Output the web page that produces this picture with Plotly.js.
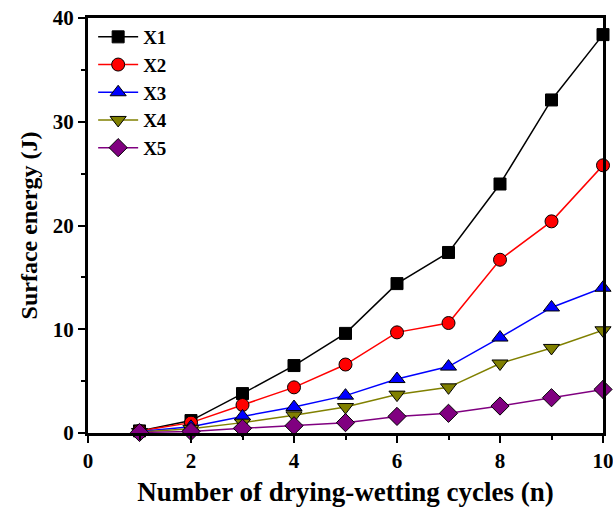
<!DOCTYPE html>
<html><head><meta charset="utf-8">
<script src="https://cdn.plot.ly/plotly-3.0.1.min.js"></script>
<style>body{margin:0;padding:0;background:#fff}#chart{width:613px;height:508px}</style>
</head><body><div id="chart"></div>
<script>
const cycles = [1,2,3,4,5,6,7,8,9,10];
const seriesNames = ['X1','X2','X3','X4','X5'];
const X1 = [0.2,1.2,3.8,6.5,9.6,14.4,17.4,24.0,32.1,38.4];
const X2 = [0.2,1.0,2.7,4.4,6.6,9.7,10.6,16.7,20.4,25.8];
const X3 = [0.15,0.6,1.6,2.5,3.6,5.2,6.4,9.2,12.1,14.0];
const X4 = [0.1,0.4,1.0,1.7,2.5,3.7,4.4,6.7,8.2,9.9];
const X5 = [0.05,0.15,0.45,0.7,1.0,1.6,1.9,2.6,3.4,4.2];
const values = [X1,X2,X3,X4,X5];
const colors = ['#000000','#ff0000','#0000ff','#808000','#800080'];
const symbols = ['square','circle','triangle-up','triangle-down','diamond'];
const sizes = [12,13,14,14,14];
const traces = values.map((v,i)=>({
  x: cycles, y: v, name: seriesNames[i], type:'scatter', mode:'lines+markers',
  line:{color:colors[i], width:1.5},
  marker:{symbol:symbols[i], size:sizes[i], color:colors[i], line:{color:'#000', width:1}},
  cliponaxis:false
}));
const fam = '"Liberation Serif","Times New Roman",serif';
const layout = {
  width:613, height:508,
  margin:{l:88, r:10, t:18, b:75},
  paper_bgcolor:'#fff', plot_bgcolor:'#fff',
  font:{family:fam, size:20, color:'#000', weight:'bold'},
  showlegend:true,
  legend:{x:0.01, y:1.0, xanchor:'left', yanchor:'top', bgcolor:'rgba(0,0,0,0)',
    font:{family:fam, size:19, color:'#000', weight:'bold'}, tracegroupgap:0, itemwidth:40},
  xaxis:{range:[0,10], dtick:2, tick0:0, showline:true, linewidth:3, linecolor:'#000', mirror:true,
    ticks:'outside', ticklen:7, tickwidth:2, tickcolor:'#000', showgrid:false, zeroline:false,
    ticklabeloverflow:'allow',
    minor:{dtick:1, ticks:'outside', ticklen:4, tickwidth:2, tickcolor:'#000', showgrid:false},
    tickfont:{family:fam, size:21, color:'#000', weight:'bold'},
    title:{text:'Number of drying-wetting cycles (n)', font:{family:fam, size:27, color:'#000', weight:'bold'}, standoff:10}},
  yaxis:{range:[0,40], dtick:10, tick0:0, showline:true, linewidth:3, linecolor:'#000', mirror:true,
    ticks:'outside', ticklen:7, tickwidth:2, tickcolor:'#000', showgrid:false, zeroline:false,
    minor:{dtick:5, ticks:'outside', ticklen:4, tickwidth:2, tickcolor:'#000', showgrid:false},
    tickfont:{family:fam, size:21, color:'#000', weight:'bold'},
    title:{text:'Surface energy (J)', font:{family:fam, size:24, color:'#000', weight:'bold'}, standoff:9}}
};
Plotly.newPlot('chart', traces, layout, {displayModeBar:false, staticPlot:true});
</script></body></html>
